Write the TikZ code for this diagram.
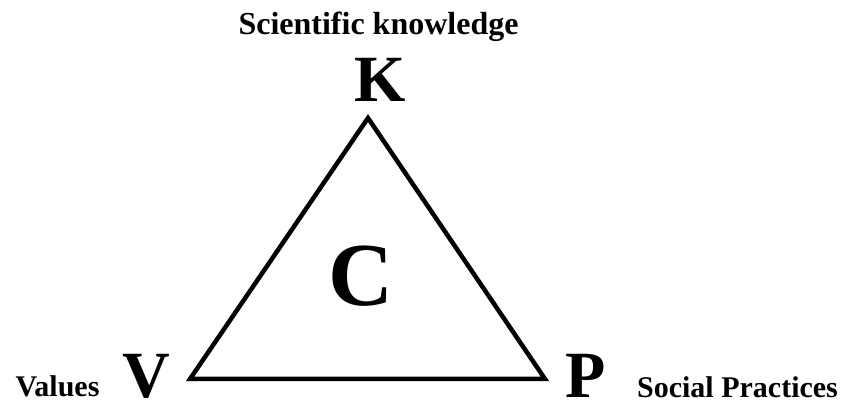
\documentclass[tikz,border=0pt]{standalone}
\usepackage{fontspec}
\setmainfont{Liberation Serif}
\begin{document}
\begin{tikzpicture}[x=1pt,y=1pt,
  lbl/.style={inner sep=0pt,anchor=base,text depth=0pt,font=\bfseries\fontsize{30}{30}\selectfont},
  big/.style={inner sep=0pt,anchor=base,text depth=0pt,font=\bfseries\fontsize{66}{66}\selectfont},
  edge/.style={line width=4.5pt,line join=miter}]
\useasboundingbox (0,0) rectangle (846,403);
\coordinate (kv) at (368,285);
\coordinate (vv) at (190,24);
\coordinate (pv) at (545,24);
\draw[edge] (kv) -- (vv) -- (pv) -- cycle;
\node[lbl,font=\bfseries\fontsize{32}{32}\selectfont] (sk) at (378.5,368.5) {Scientific knowledge};
\node[big] (k) at (380,301.3) {K};
\node[big] (v) at (146,5) {V};
\node[big] (p) at (586,5) {P};
\node[inner sep=0pt,anchor=base,font=\bfseries\fontsize{90}{90}\selectfont] (c) at (361,97) {C};
\node[lbl] (val) at (57.5,6) {Values};
\node[lbl] (sp) at (737.5,5) {Social Practices};
\end{tikzpicture}
\end{document}
